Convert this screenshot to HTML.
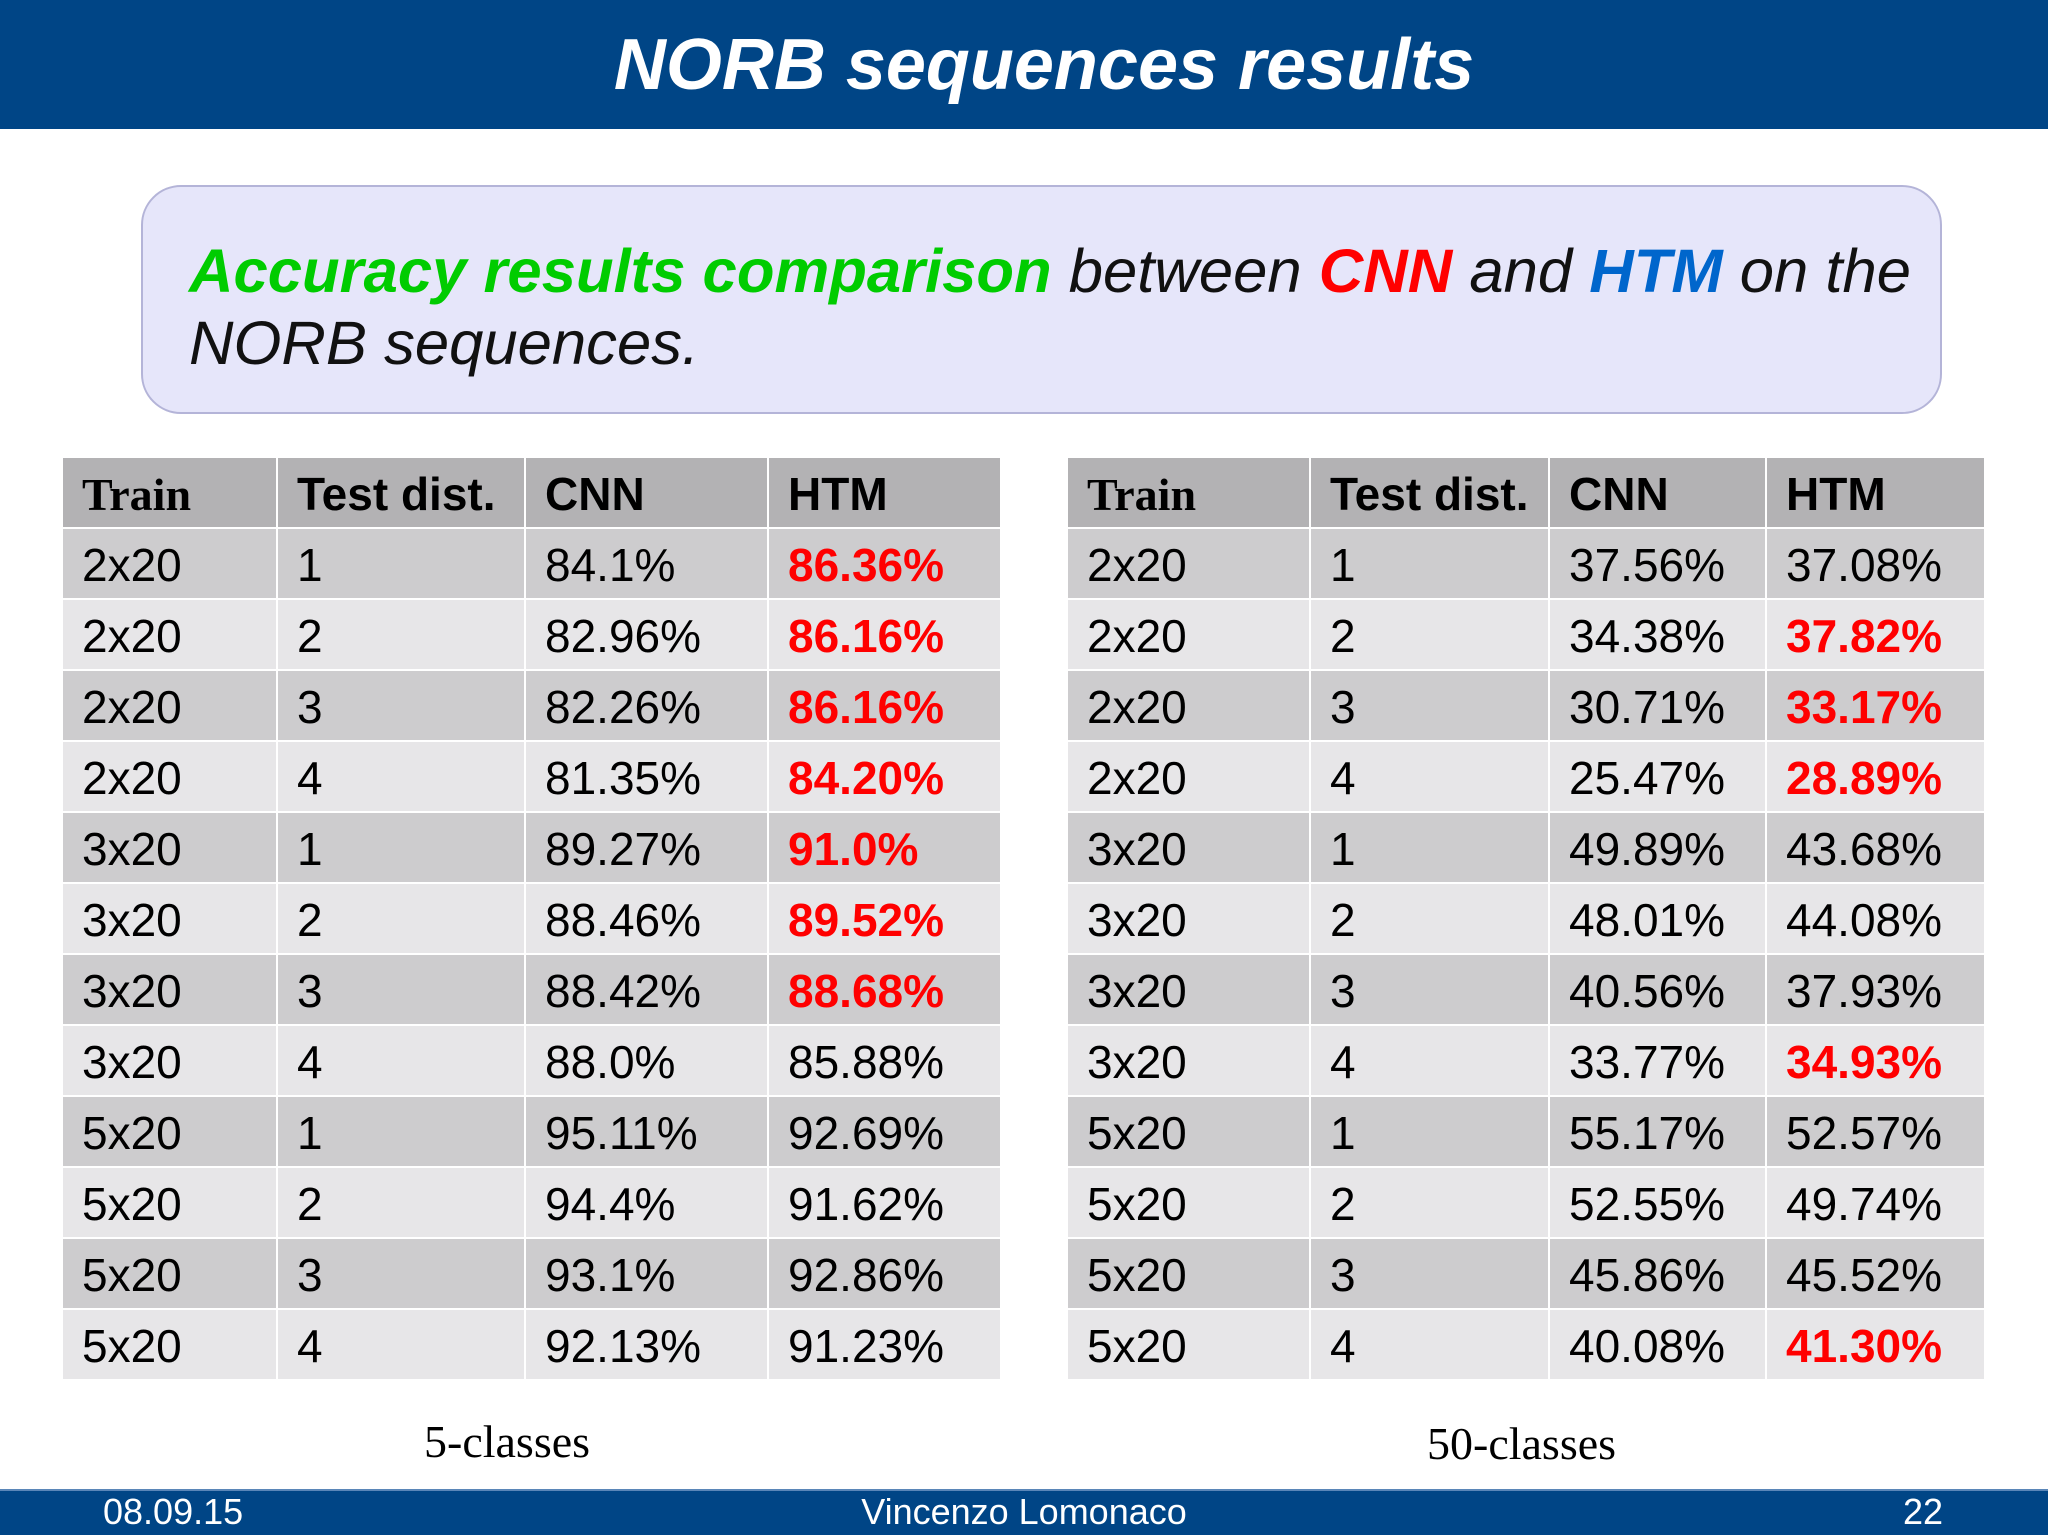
<!DOCTYPE html>
<html><head><meta charset="utf-8"><style>
*{margin:0;padding:0;box-sizing:border-box}
body{width:2048px;height:1535px;position:relative;background:#fff;overflow:hidden;font-family:"Liberation Sans",sans-serif}
.abs{position:absolute}
.hdr{left:0;top:0;width:2048px;height:129px;background:#004586}
.title{left:20px;width:2048px;top:24px;text-align:center;color:#fff;font:italic bold 72px "Liberation Sans",sans-serif}
.box{left:141px;top:185px;width:1801px;height:229px;background:#e6e6fa;border:2px solid #b4b4d8;border-radius:40px}
.sub{left:189px;top:236px;font:italic 61.6px/72px "Liberation Sans",sans-serif;color:#111;white-space:nowrap}
.cell{position:absolute;height:71px;font-size:46px;line-height:71px;padding-left:19px;padding-top:2px;white-space:nowrap;color:#000}
.red{color:#f00;font-weight:bold}
.cap{font:46px "Liberation Serif",serif;color:#000;white-space:nowrap}
.ftr{left:0;top:1489px;width:2048px;height:46px;background:#004586;border-top:2px solid #5a86b8}
.ft{top:1492px;color:#fff;font-size:36px;line-height:40px;white-space:nowrap}
</style></head><body>
<div class="abs hdr"></div>
<div class="abs title">NORB sequences results</div>
<div class="abs box"></div>
<div class="abs sub"><span style="color:#00cc00;font-weight:bold">Accuracy results comparison</span> between <span style="color:#f00;font-weight:bold">CNN</span> and <span style="color:#0066cc;font-weight:bold">HTM</span> on the<br>NORB sequences.</div>
<div id="tables"></div>
<div class="abs cap" style="left:424px;top:1415px">5-classes</div>
<div class="abs cap" style="left:1427px;top:1417px">50-classes</div>
<div class="abs ftr"></div>
<div class="abs ft" style="left:103px">08.09.15</div>
<div class="abs ft" style="left:0;width:2048px;text-align:center">Vincenzo Lomonaco</div>
<div class="abs ft" style="left:1897px;width:46px;text-align:right">22</div>
<script>
const trains=["2x20","2x20","2x20","2x20","3x20","3x20","3x20","3x20","5x20","5x20","5x20","5x20"];
const dists=["1","2","3","4","1","2","3","4","1","2","3","4"];
const cnn5=["84.1%","82.96%","82.26%","81.35%","89.27%","88.46%","88.42%","88.0%","95.11%","94.4%","93.1%","92.13%"];
const htm5=["86.36%","86.16%","86.16%","84.20%","91.0%","89.52%","88.68%","85.88%","92.69%","91.62%","92.86%","91.23%"];
const htm5Bold=[1,1,1,1,1,1,1,0,0,0,0,0];
const cnn50=["37.56%","34.38%","30.71%","25.47%","49.89%","48.01%","40.56%","33.77%","55.17%","52.55%","45.86%","40.08%"];
const htm50=["37.08%","37.82%","33.17%","28.89%","43.68%","44.08%","37.93%","34.93%","52.57%","49.74%","45.52%","41.30%"];
const htm50Bold=[0,1,1,1,0,0,0,1,0,0,0,1];
const root=document.getElementById('tables');
function build(cols,cnn,htm,bold,name){
  const top=458,rh=71;
  const heads=["Train","Test dist.","CNN","HTM"];
  for(let r=0;r<13;r++){
    const bg=r===0?"#b3b2b4":(r%2===1?"#cdccce":"#e7e6e8");
    for(let c=0;c<4;c++){
      const d=document.createElement('div');
      d.className='cell';
      
      
      d.style.left=cols[c]+'px';
      d.style.top=(top+r*rh)+'px';
      d.style.width=(cols[c+1]-cols[c]-2)+'px';
      d.style.height=(rh-2)+'px';
      d.style.lineHeight=(rh-2)+'px';
      d.style.background=bg;
      if(r===0){
        d.textContent=heads[c];d.style.fontWeight='bold';
        if(c===0)d.style.fontFamily='"Liberation Serif",serif';
      }else{
        const i=r-1;
        const v=[trains[i],dists[i],cnn[i],htm[i]][c];
        d.textContent=v;
        if(c===3&&bold[i])d.classList.add('red');
      }
      root.appendChild(d);
    }
  }
}
build([63,278,526,769,1002],cnn5,htm5,htm5Bold,'table-5-classes');
build([1068,1311,1550,1767,1986],cnn50,htm50,htm50Bold,'table-50-classes');
</script>
</body></html>
